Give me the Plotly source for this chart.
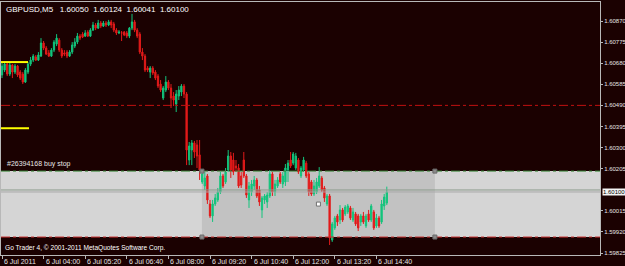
import plotly.graph_objects as go

# ---------------- data (GBPUSD M5, 6 Jul 2011, from 02:40) ----------------
open_ = [1.60627, 1.60649, 1.60676, 1.60631, 1.60672, 1.60640, 1.60667, 1.60640, 1.60631, 1.60595,
         1.60640, 1.60676, 1.60694, 1.60708, 1.60694, 1.60712, 1.60771, 1.60748, 1.60726, 1.60712,
         1.60739, 1.60766, 1.60784, 1.60739, 1.60726, 1.60730, 1.60712, 1.60730, 1.60757, 1.60775,
         1.60802, 1.60811, 1.60802, 1.60820, 1.60802, 1.60829, 1.60852, 1.60838, 1.60861, 1.60847,
         1.60861, 1.60852, 1.60866, 1.60857, 1.60829, 1.60816, 1.60816, 1.60820, 1.60816, 1.60802,
         1.60838, 1.60866, 1.60829, 1.60811, 1.60730, 1.60712, 1.60658, 1.60640, 1.60658, 1.60640,
         1.60622, 1.60586, 1.60523, 1.60559, 1.60595, 1.60568, 1.60532, 1.60496, 1.60532, 1.60550,
         1.60577, 1.60541, 1.60244, 1.60289, 1.60321, 1.60312, 1.60267, 1.60145, 1.60127, 1.60172,
         1.60046, 1.59992, 1.60046, 1.60064, 1.60100, 1.60172, 1.60145, 1.60199, 1.60262, 1.60244,
         1.60217, 1.60208, 1.60172, 1.60244, 1.60172, 1.60064, 1.60100, 1.60127, 1.60154, 1.60109,
         1.60019, 1.60064, 1.60055, 1.60082, 1.60181, 1.60100, 1.60127, 1.60181, 1.60136, 1.60145,
         1.60199, 1.60244, 1.60230, 1.60208, 1.60244, 1.60172, 1.60199, 1.60230, 1.60181, 1.60145,
         1.60091, 1.60100, 1.60127, 1.60163, 1.60118, 1.60046, 1.60082, 1.59884, 1.59938, 1.59992,
         1.59974, 1.60019, 1.60001, 1.60010, 1.60028, 1.59974, 1.60001, 1.59992, 1.59965, 1.59992,
         1.59947, 1.60001, 1.59974, 1.60010, 1.59947, 1.59983, 1.59965, 1.60037, 1.60050]
high = [1.60681, 1.60685, 1.60681, 1.60681, 1.60676, 1.60676, 1.60672, 1.60649, 1.60640, 1.60658,
        1.60685, 1.60708, 1.60721, 1.60717, 1.60730, 1.60793, 1.60780, 1.60757, 1.60739, 1.60748,
        1.60784, 1.60811, 1.60793, 1.60748, 1.60739, 1.60739, 1.60739, 1.60775, 1.60793, 1.60816,
        1.60811, 1.60820, 1.60829, 1.60829, 1.60838, 1.60866, 1.60861, 1.60875, 1.60870, 1.60870,
        1.60870, 1.60875, 1.60875, 1.60866, 1.60838, 1.60829, 1.60825, 1.60825, 1.60825, 1.60843,
        1.60902, 1.60875, 1.60838, 1.60820, 1.60748, 1.60721, 1.60667, 1.60667, 1.60667, 1.60649,
        1.60631, 1.60604, 1.60577, 1.60622, 1.60604, 1.60586, 1.60550, 1.60559, 1.60577, 1.60586,
        1.60586, 1.60550, 1.60325, 1.60334, 1.60330, 1.60334, 1.60334, 1.60194, 1.60190, 1.60181,
        1.60064, 1.60064, 1.60091, 1.60118, 1.60190, 1.60181, 1.60208, 1.60289, 1.60280, 1.60276,
        1.60244, 1.60226, 1.60190, 1.60280, 1.60181, 1.60145, 1.60154, 1.60172, 1.60163, 1.60127,
        1.60082, 1.60091, 1.60100, 1.60199, 1.60190, 1.60154, 1.60167, 1.60190, 1.60190, 1.60226,
        1.60244, 1.60280, 1.60280, 1.60276, 1.60253, 1.60217, 1.60258, 1.60240, 1.60190, 1.60154,
        1.60154, 1.60163, 1.60212, 1.60172, 1.60127, 1.60091, 1.60091, 1.59965, 1.59992, 1.60001,
        1.60041, 1.60028, 1.60041, 1.60046, 1.60037, 1.60028, 1.60010, 1.60001, 1.60001, 1.60010,
        1.60001, 1.60019, 1.60046, 1.60019, 1.60001, 1.59992, 1.60064, 1.60091, 1.60124]
low = [1.60613, 1.60640, 1.60622, 1.60622, 1.60613, 1.60631, 1.60618, 1.60604, 1.60586, 1.60591,
       1.60631, 1.60667, 1.60685, 1.60690, 1.60690, 1.60708, 1.60739, 1.60717, 1.60708, 1.60708,
       1.60730, 1.60757, 1.60730, 1.60703, 1.60712, 1.60703, 1.60708, 1.60721, 1.60748, 1.60766,
       1.60784, 1.60793, 1.60798, 1.60798, 1.60798, 1.60825, 1.60829, 1.60834, 1.60838, 1.60843,
       1.60843, 1.60847, 1.60838, 1.60820, 1.60807, 1.60811, 1.60780, 1.60802, 1.60793, 1.60793,
       1.60829, 1.60820, 1.60793, 1.60721, 1.60694, 1.60640, 1.60640, 1.60613, 1.60627, 1.60604,
       1.60568, 1.60550, 1.60514, 1.60550, 1.60559, 1.60478, 1.60487, 1.60460, 1.60514, 1.60532,
       1.60523, 1.60221, 1.60221, 1.60221, 1.60253, 1.60208, 1.60154, 1.60136, 1.60109, 1.60046,
       1.59983, 1.59965, 1.60037, 1.60055, 1.60091, 1.60118, 1.60136, 1.60190, 1.60163, 1.60176,
       1.60190, 1.60118, 1.60118, 1.60163, 1.60073, 1.60028, 1.60082, 1.60109, 1.60073, 1.60037,
       1.59983, 1.60046, 1.60028, 1.60073, 1.60082, 1.60082, 1.60118, 1.60136, 1.60118, 1.60127,
       1.60145, 1.60208, 1.60221, 1.60199, 1.60181, 1.60163, 1.60190, 1.60163, 1.60082, 1.60082,
       1.60082, 1.60091, 1.60118, 1.60100, 1.60055, 1.60037, 1.59861, 1.59875, 1.59929, 1.59947,
       1.59956, 1.59965, 1.59992, 1.60001, 1.59974, 1.59965, 1.59947, 1.59924, 1.59947, 1.59956,
       1.59938, 1.59965, 1.59965, 1.59929, 1.59938, 1.59938, 1.59956, 1.60019, 1.60041]
close = [1.60667, 1.60676, 1.60631, 1.60672, 1.60640, 1.60667, 1.60627, 1.60613, 1.60595, 1.60649,
         1.60676, 1.60694, 1.60712, 1.60694, 1.60717, 1.60771, 1.60748, 1.60721, 1.60712, 1.60739,
         1.60775, 1.60793, 1.60739, 1.60712, 1.60721, 1.60712, 1.60730, 1.60762, 1.60775, 1.60802,
         1.60793, 1.60798, 1.60816, 1.60802, 1.60829, 1.60852, 1.60838, 1.60861, 1.60847, 1.60861,
         1.60852, 1.60866, 1.60852, 1.60829, 1.60816, 1.60820, 1.60816, 1.60807, 1.60802, 1.60838,
         1.60866, 1.60829, 1.60802, 1.60730, 1.60712, 1.60649, 1.60649, 1.60658, 1.60636, 1.60613,
         1.60577, 1.60559, 1.60568, 1.60595, 1.60568, 1.60523, 1.60514, 1.60541, 1.60559, 1.60577,
         1.60541, 1.60289, 1.60307, 1.60321, 1.60280, 1.60262, 1.60199, 1.60181, 1.60163, 1.60064,
         1.59992, 1.60046, 1.60073, 1.60100, 1.60172, 1.60127, 1.60190, 1.60262, 1.60199, 1.60190,
         1.60208, 1.60127, 1.60131, 1.60172, 1.60086, 1.60127, 1.60136, 1.60154, 1.60082, 1.60055,
         1.60073, 1.60082, 1.60086, 1.60181, 1.60100, 1.60136, 1.60154, 1.60145, 1.60172, 1.60208,
         1.60230, 1.60217, 1.60271, 1.60262, 1.60190, 1.60208, 1.60244, 1.60172, 1.60100, 1.60091,
         1.60127, 1.60145, 1.60172, 1.60109, 1.60073, 1.60082, 1.59893, 1.59956, 1.59983, 1.59965,
         1.60019, 1.59974, 1.60032, 1.60037, 1.59983, 1.60010, 1.59956, 1.59938, 1.59992, 1.59965,
         1.59992, 1.59974, 1.60037, 1.59938, 1.59983, 1.59947, 1.60046, 1.60077, 1.60100]

bars = list(range(len(close)))

time_labels = ["6 Jul 2011", "6 Jul 04:00", "6 Jul 05:20", "6 Jul 06:40", "6 Jul 08:00",
               "6 Jul 09:20", "6 Jul 10:40", "6 Jul 12:00", "6 Jul 13:20", "6 Jul 14:40"]
time_label_bars = [0, 16, 32, 48, 64, 80, 96, 112, 128, 144]

price_ticks = [1.60870, 1.60775, 1.60680, 1.60585, 1.60490, 1.60395, 1.60300, 1.60205,
               1.60015, 1.59920, 1.59825]
price_tick_text = ["1.60870", "1.60775", "1.60680", "1.60585", "1.60490", "1.60395", "1.60300",
                   "1.60205", "1.60015", "1.59920", "1.59825"]

bid_price = 1.60100
second_line = 1.60109
buy_stop_price = 1.60194
stop_loss_price = 1.59897
red_level = 1.60490
yellow_levels = [1.60685, 1.60387]
yellow_end_bar = [10.0, 10.4]
rect_bars = [76.9, 166.5]

header = "GBPUSD,M5\u00a0\u00a0 1.60050\u00a0 1.60124\u00a0 1.60041\u00a0 1.60100"
order_label = "#26394168 buy stop"
footer = "Go Trader 4, © 2001-2011 MetaQuotes Software Corp."

# ---------------- style ----------------
BG = "#1b0101"
GREEN = "#12c47c"
RED = "#e21a1a"
TXT = "#e6e6e6"
FONT = "Liberation Sans"

fig = go.Figure()
fig.add_trace(go.Candlestick(
    x=bars, open=open_, high=high, low=low, close=close,
    increasing=dict(line=dict(color=GREEN, width=1), fillcolor=GREEN),
    decreasing=dict(line=dict(color=RED, width=1), fillcolor=RED),
    whiskerwidth=0, hoverinfo="skip", showlegend=False))

shapes = []
shapes.append(dict(type="rect", xref="paper", x0=0, x1=1, yref="y",
                   y0=stop_loss_price, y1=buy_stop_price, fillcolor="#d5d5d5",
                   line=dict(width=0), layer="below"))
shapes.append(dict(type="rect", xref="x", x0=rect_bars[0], x1=rect_bars[1], yref="y",
                   y0=stop_loss_price, y1=buy_stop_price, fillcolor="#c2c2c2",
                   line=dict(width=0), layer="below"))
shapes.append(dict(type="line", xref="paper", x0=0, x1=1, yref="y", y0=buy_stop_price,
                   y1=buy_stop_price, line=dict(color="#3d8a3d", width=1, dash="dashdot")))
shapes.append(dict(type="line", xref="paper", x0=0, x1=1, yref="y", y0=stop_loss_price,
                   y1=stop_loss_price, line=dict(color="#c83030", width=1, dash="dashdot")))
shapes.append(dict(type="line", xref="paper", x0=0, x1=1, yref="y", y0=red_level,
                   y1=red_level, line=dict(color="#c01010", width=1, dash="dashdot")))
shapes.append(dict(type="line", xref="paper", x0=0, x1=1, yref="y", y0=second_line,
                   y1=second_line, line=dict(color="#8c9c8c", width=1)))
shapes.append(dict(type="line", xref="paper", x0=0, x1=1, yref="y", y0=bid_price,
                   y1=bid_price, line=dict(color="#a8a8a8", width=1)))
for lv, xe in zip(yellow_levels, yellow_end_bar):
    shapes.append(dict(type="line", xref="x", x0=-0.4, x1=xe, yref="y", y0=lv, y1=lv,
                       line=dict(color="#ffff00", width=2)))
for hx in rect_bars:
    for hy in [buy_stop_price, stop_loss_price]:
        shapes.append(dict(type="rect", xref="x", yref="y", xsizemode="pixel",
                           ysizemode="pixel", xanchor=hx, yanchor=hy, x0=-2, x1=2, y0=-2,
                           y1=2, fillcolor="#8a8a8a", line=dict(color="#6a6a6a", width=1)))
shapes.append(dict(type="rect", xref="x", yref="y", xsizemode="pixel", ysizemode="pixel",
                   xanchor=(rect_bars[0] + rect_bars[1]) / 2,
                   yanchor=(buy_stop_price + stop_loss_price) / 2,
                   x0=-2, x1=2, y0=-2, y1=2, fillcolor="#ffffff",
                   line=dict(color="#707070", width=1)))

annotations = []
annotations.append(dict(text=header, xref="paper", yref="paper", x=0, y=1, xanchor="left",
                        yanchor="top", xshift=3, yshift=-1, showarrow=False,
                        font=dict(family=FONT, size=8, color="#ffffff")))
annotations.append(dict(text=order_label, xref="paper", yref="y", x=0, y=buy_stop_price,
                        xanchor="left", yanchor="bottom", xshift=4, yshift=1, showarrow=False,
                        font=dict(family=FONT, size=7, color=TXT)))
annotations.append(dict(text=footer, xref="paper", yref="paper", x=0, y=0, xanchor="left",
                        yanchor="bottom", xshift=2, yshift=1, showarrow=False,
                        font=dict(family=FONT, size=6.6, color="#ffffff")))
for b, t in zip(time_label_bars, time_labels):
    annotations.append(dict(text=t, xref="x", yref="paper", x=b, y=0, xanchor="left",
                            yanchor="top", xshift=0, yshift=-1, showarrow=False,
                            font=dict(family=FONT, size=7, color=TXT)))
annotations.append(dict(text=f"{bid_price:.5f}", xref="paper", yref="y", x=1, y=bid_price,
                        xanchor="left", yanchor="middle", xshift=2, showarrow=False,
                        bgcolor="#f4f4f4", borderpad=0,
                        font=dict(family=FONT, size=6, color="#000000")))

fig.update_layout(
    width=625, height=266,
    margin=dict(l=1, r=25, t=2, b=11, pad=0),
    paper_bgcolor=BG, plot_bgcolor=BG,
    shapes=shapes, annotations=annotations, showlegend=False,
    xaxis=dict(range=[-0.385, 230.0], rangeslider=dict(visible=False), showgrid=False,
               zeroline=False, showline=True, mirror=True, linecolor="#b8b8b8", linewidth=1,
               tickvals=time_label_bars, ticks="outside", ticklen=3, tickcolor="#b8b8b8",
               showticklabels=False, fixedrange=True),
    yaxis=dict(range=[1.598161, 1.609556], side="right", showgrid=False, zeroline=False,
               showline=True, mirror=True, linecolor="#b8b8b8", linewidth=1,
               tickvals=price_ticks, ticktext=price_tick_text, ticks="outside", ticklen=2,
               tickcolor="#b8b8b8", tickfont=dict(family=FONT, size=6, color=TXT),
               automargin=False, fixedrange=True),
)

fig.write_html("out.html")
